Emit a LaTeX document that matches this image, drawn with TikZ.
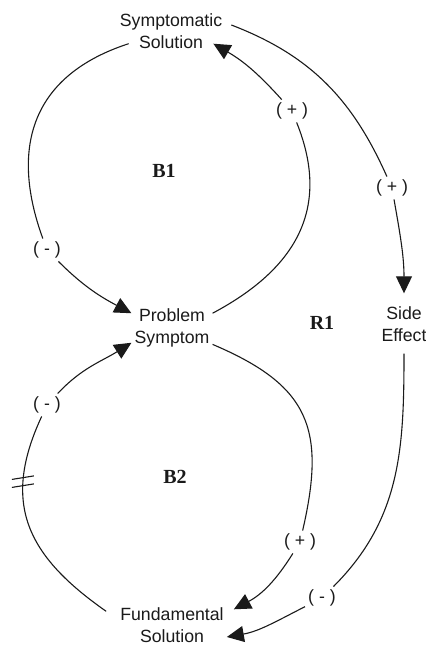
\documentclass[tikz,border=0pt]{standalone}
\usepackage{fontspec}
\setmainfont{Liberation Sans}
\newfontfamily\loopfont{Liberation Serif}
\usetikzlibrary{arrows.meta}
\definecolor{ink}{HTML}{1A1A1A}
\tikzset{
  var/.style={align=center, inner sep=3pt, text=ink, font=\fontsize{17.7}{22}\selectfont},
  pol/.style={inner sep=3pt, text=ink, font=\fontsize{17.7}{22}\selectfont},
  loopname/.style={text=ink, font=\loopfont\bfseries\fontsize{20}{24}\selectfont},
  seg/.style={line width=1.1pt, draw=ink},
  arr/.style={seg, -{Triangle[length=17pt,width=16pt]}}
}
\begin{document}
\begin{tikzpicture}[x=1pt,y=1pt]
  \useasboundingbox (0,0) rectangle (426,646);
  % variables
  \node[var] (symsol) at (171,615) {Symptomatic\\Solution};
  \node[var] (probsym) at (172,318) {Problem\\Symptom};
  \node[var] (side) at (404,322) {Side\\Effect};
  \node[var] (fundsol) at (172,21) {Fundamental\\Solution};
  % loop names
  \node[loopname] (b1) at (164,475) {B1};
  \node[loopname] (b2) at (175,169) {B2};
  \node[loopname] (r1) at (322,323) {R1};
  % polarities
  \node[pol] (p1) at (292,535) {( + )};
  \node[pol] (m1) at (47,396) {( - )};
  \node[pol] (p2) at (392,458) {( + )};
  \node[pol] (m2) at (47,241) {( - )};
  \node[pol] (p3) at (300,104) {( + )};
  \node[pol] (m3) at (322,48) {( - )};
  % B1
  \draw[seg] (probsym.20) to[out=28,in=-68,looseness=1.15] (p1);
  \draw[arr] (p1) to[out=132,in=-30] ([shift={(-12pt,8pt)}]symsol.south east);
  \draw[seg] ([shift={(12pt,8pt)}]symsol.south west) to[out=198,in=110,looseness=1.2] (m1);
  \draw[arr] (m1) to[out=-45,in=152] (probsym.160);
  % B2
  \draw[seg] (probsym.-22) to[out=-23,in=77,looseness=1.3] (p3);
  \draw[arr] (p3) to[out=-122,in=28] ([shift={(7pt,-5pt)}]fundsol.north east);
  \draw[seg] ([shift={(-11pt,-7pt)}]fundsol.north west) to[out=145,in=-115,looseness=1.2] coordinate[pos=0.72] (delay) (m2);
  \draw[arr] (m2) to[out=47,in=-148] (probsym.200);
  % delay mark
  \draw[seg] ([shift={(-11pt,-5pt)}]delay) -- ++(22pt,3.5pt);
  \draw[seg] ([shift={(-11pt,3pt)}]delay) -- ++(22pt,3.5pt);
  % R1
  \draw[seg] ([shift={(6pt,6pt)}]symsol.east) to[out=-21,in=114] (p2);
  \draw[arr] (p2) to[out=-80,in=90] ([yshift=10pt]side.north);
  \draw[seg] ([yshift=-9pt]side.south) to[out=-90,in=45] (m3);
  \draw[arr] (m3) to[out=207,in=10] ([yshift=-12pt]fundsol.east);
\end{tikzpicture}
\end{document}
